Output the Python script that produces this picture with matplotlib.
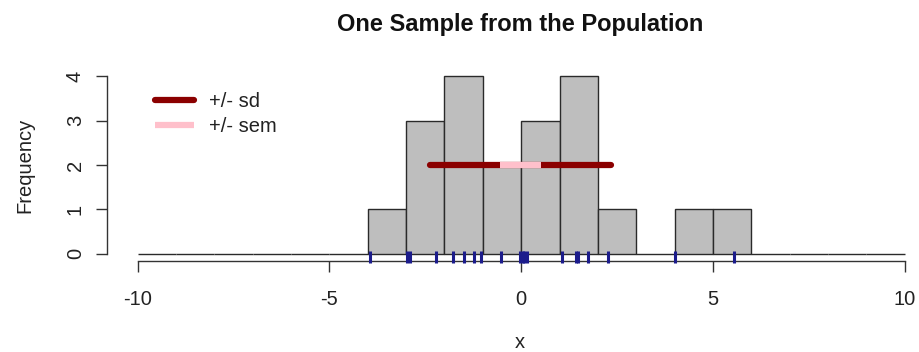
import numpy as np
import matplotlib
matplotlib.use("Agg")
import matplotlib.pyplot as plt

plt.rcParams['font.family'] = ['Liberation Sans', 'DejaVu Sans']

# one sample of 20 draws
sample = [-3.93, -2.97, -2.89, -2.23, -1.77, -1.49, -1.23, -1.04, -0.52, -0.02,
          0.05, 0.07, 0.16, 1.07, 1.43, 1.48, 1.74, 2.26, 4.02, 5.55]
breaks = np.arange(-10, 11, 1)
xticks = [-10, -5, 0, 5, 10]
yticks = [0, 1, 2, 3, 4]
bar_height = 2

sample = np.array(sample)
m = sample.mean()
sd = sample.std(ddof=1)
sem = sd / np.sqrt(len(sample))

W, H = 919, 352
fig = plt.figure(figsize=(W / 100, H / 100), dpi=100)
# plot region in pixels: left 107, bottom 261, top 69
xlim = (-10.8, 10.3)
px_per_unit = 767 / 20
left = 107 / W
ax_w = (xlim[1] - xlim[0]) * px_per_unit
ax_h = 261 - 69
ax = fig.add_axes([left, (H - 261) / H, ax_w / W, ax_h / H])

ax.hist(sample, bins=breaks, color='#bebebe', edgecolor='#2a2a2a', linewidth=1.0)

# rug along the bottom
ax.vlines(sample, -0.01, 0.05, transform=ax.get_xaxis_transform(),
          color='#1c1c8c', linewidth=2.2, zorder=3, clip_on=False)

# mean +/- sd and mean +/- sem
ax.plot([m - sd, m + sd], [bar_height, bar_height], color='#8b0000', lw=4.5,
        solid_capstyle='round', zorder=4, label='+/- sd')
ax.plot([m - sem, m + sem], [bar_height, bar_height], color='#ffc0cb', lw=4.5,
        solid_capstyle='butt', zorder=5, label='+/- sem')

ax.set_xlim(*xlim)
ax.set_ylim(-0.16, 4.16)

for side in ['top', 'right']:
    ax.spines[side].set_visible(False)
ax.spines['left'].set_bounds(0, 4)
ax.spines['bottom'].set_bounds(-10, 10)
for side in ['left', 'bottom']:
    ax.spines[side].set_color('#333333')
    ax.spines[side].set_linewidth(1.0)

fs = 14.5
ax.set_xticks(xticks)
ax.set_yticks(yticks)
ax.set_xticklabels([str(t) for t in xticks])
ax.set_yticklabels([str(t) for t in yticks], rotation=90, va='center')
ax.tick_params(axis='both', length=8, width=1.0, color='#333333',
               labelsize=fs, labelcolor='#222222')
ax.tick_params(axis='x', pad=13)
ax.tick_params(axis='y', pad=8)

x0 = (520 - 107) / ax_w
ax.set_xlabel('x', fontsize=fs, color='#222222')
ax.xaxis.label.set_va('center')
ax.xaxis.set_label_coords(x0, -(343 - 261) / ax_h)
ax.set_ylabel('Frequency', fontsize=fs, color='#222222')
ax.yaxis.label.set_va('center')
ax.yaxis.set_label_coords(-(107 - 25) / ax_w, 0.5)
ax.set_title('One Sample from the Population', fontsize=17, fontweight='bold',
             color='#111111', x=x0, y=1.0, pad=27)

ax.legend(loc='upper left', bbox_to_anchor=(155 / W, 1 - 92 / H),
          bbox_transform=fig.transFigure, frameon=False, fontsize=fs,
          borderaxespad=0, borderpad=0,
          handlelength=1.95, handletextpad=0.75, labelspacing=0.3,
          labelcolor='#222222')

fig.savefig('out.png', dpi=100)
